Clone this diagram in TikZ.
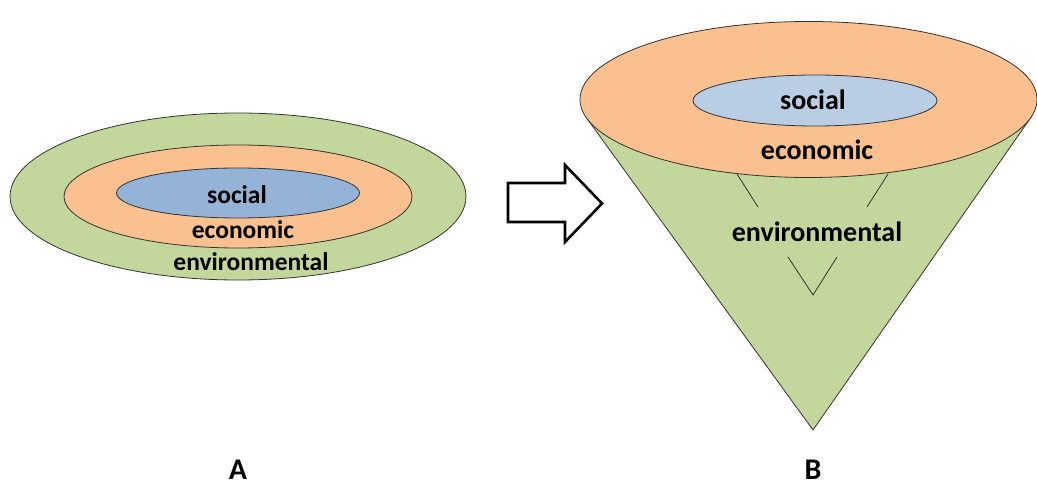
\documentclass[tikz,border=0pt]{standalone}
\usepackage{fontspec}
\setmainfont{Carlito}
\usetikzlibrary{shapes.geometric,calc}
\definecolor{envgreen}{HTML}{C3D69B}
\definecolor{ecoorange}{HTML}{FAC090}
\definecolor{socblue}{HTML}{95B3D7}
\definecolor{socbluelight}{HTML}{B9CDE5}
\definecolor{rim}{HTML}{333333}
\tikzset{
  ring/.style={ellipse, draw=rim, line width=0.8pt, inner sep=0pt},
  lbl/.style={font=\bfseries\fontsize{25.5}{28}\selectfont, inner sep=0pt},
  lblB/.style={font=\bfseries\fontsize{28}{31}\selectfont, inner sep=0pt},
  caption/.style={font=\bfseries\fontsize{30}{33}\selectfont, inner sep=0pt},
  fold/.style={draw=rim, line width=0.8pt},
}
\begin{document}
\begin{tikzpicture}[x=1pt,y=-1pt]
\useasboundingbox (0,0) rectangle (1037,486);

% ---- A: nested rings ----
\node[ring, fill=envgreen, minimum width=456pt, minimum height=167pt] (envA) at (238,196.5) {};
\node[ring, fill=ecoorange, minimum width=348pt, minimum height=103pt] (ecoA) at (238,196.5) {};
\node[ring, fill=socblue, minimum width=243pt, minimum height=50pt] (socA) at (238,193) {};
\node[lbl] (tsocA) at (237,195) {social};
\node[lbl] (tecoA) at (243,230) {economic};
\node[lbl] (tenvA) at (251,262) {environmental};

% ---- hollow arrow ----
\draw[line width=2.6pt, line join=miter, fill=white]
  (508,183) -- (565,183) -- (565,165) -- (602,203.5) -- (565,242) -- (565,222) -- (508,222) -- cycle;

% ---- B: cone ----
\coordinate (top) at (808.5,99.5);
\coordinate (apex) at (813,430);
\coordinate (tl) at ($(top)+(166.1:228.5 and 78)$);
\coordinate (tr) at ($(top)+(13.4:228.5 and 78)$);
\draw[fold, fill=envgreen] (tl) -- (apex) -- (tr) -- cycle;
\node[ring, fill=ecoorange, minimum width=457pt, minimum height=156pt] (ecoB) at (top) {};
\node[ring, fill=socbluelight, minimum width=244pt, minimum height=51pt] (socB) at (815,100.5) {};
\node[lblB] (tsocB) at (813,100) {social};
\node[lblB] (tecoB) at (817,150) {economic};
\node[lblB] (tenvB) at (817,232) {environmental};

% fold marks inside the cone
\coordinate (fl1) at (737,174);
\coordinate (fl2) at (758,207);
\coordinate (fr1) at (888,174);
\coordinate (fr2) at (867,207);
\coordinate (v1) at (788,257);
\coordinate (v2) at (813,295);
\coordinate (v3) at (837,257);
\draw[fold] (fl1) -- (fl2);
\draw[fold] (fr1) -- (fr2);
\draw[fold] (v1) -- (v2) -- (v3);

% ---- captions ----
\node[caption] (capA) at (238,470) {A};
\node[caption] (capB) at (813,470) {B};
\end{tikzpicture}
\end{document}
